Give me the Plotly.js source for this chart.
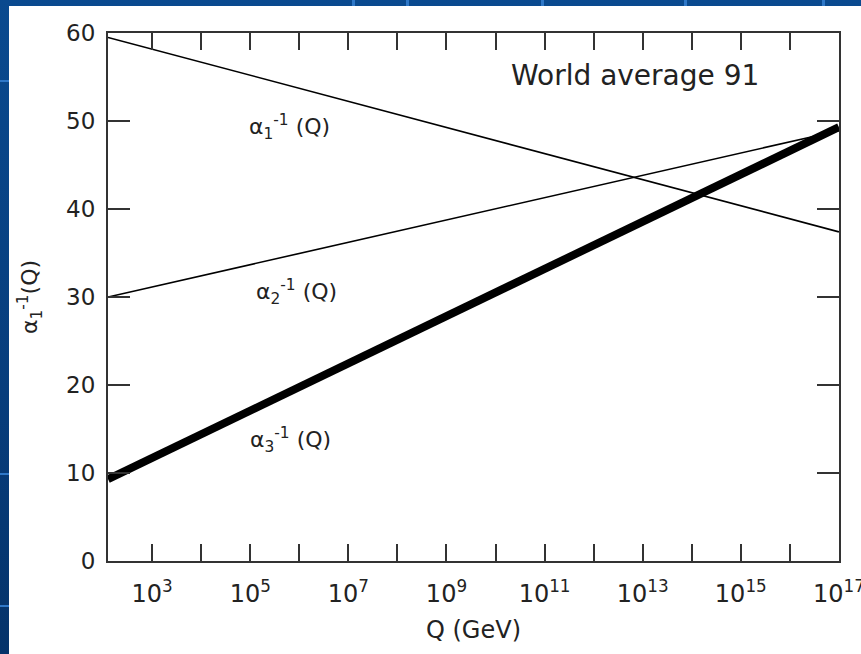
<!DOCTYPE html>
<html>
<head>
<meta charset="utf-8">
<script src="https://cdn.plot.ly/plotly-3.0.1.min.js"></script>
<style>
  html, body { margin: 0; padding: 0; }
  body { width: 861px; height: 654px; overflow: hidden; position: relative;
         background: linear-gradient(180deg, #0a4a8f 0%, #073d7c 60%, #05336a 100%); }
  #chart { position: absolute; left: 9px; top: 6px; width: 852px; height: 648px; }
  .sep { position: absolute; background: #2f78c8; }
</style>
</head>
<body>
<div class="sep" style="left:0;top:80px;width:9px;height:2px"></div>
<div class="sep" style="left:0;top:473px;width:9px;height:2px"></div>
<div class="sep" style="left:0;top:605px;width:9px;height:2px"></div>
<div class="sep" style="left:352px;top:0;width:3px;height:6px"></div>
<div class="sep" style="left:406px;top:0;width:3px;height:6px"></div>
<div class="sep" style="left:541px;top:0;width:3px;height:6px"></div>
<div class="sep" style="left:684px;top:0;width:3px;height:6px"></div>
<div class="sep" style="left:822px;top:0;width:3px;height:6px"></div>
<div id="chart"></div>
<script>
// Energy scale Q (GeV) at the ends of the plotted lines
const qGeV = [126, 1e17];
// Inverse couplings
const alpha1Inv = [59.5, 37.4];
const alpha2Inv = [30.0, 48.9];
const alpha3Inv = [9.3, 49.3];

// Tick labels
const xTickVals = [1e3,1e4,1e5,1e6,1e7,1e8,1e9,1e10,1e11,1e12,1e13,1e14,1e15,1e16,1e17];
const xTickText = ['10<sup>3</sup>','','10<sup>5</sup>','','10<sup>7</sup>','','10<sup>9</sup>','',
                   '10<sup>11</sup>','','10<sup>13</sup>','','10<sup>15</sup>','','10<sup>17</sup>'];
const yTickVals = [0,10,20,30,40,50,60];

const FONT = 'DejaVu Sans, Liberation Sans, Arial, sans-serif';
const INK = '#222';

const traces = [
  { x: qGeV, y: alpha1Inv, mode: 'lines', line: { color: '#000', width: 1.6 }, name: 'a1', hoverinfo: 'skip' },
  { x: qGeV, y: alpha2Inv, mode: 'lines', line: { color: '#000', width: 1.6 }, name: 'a2', hoverinfo: 'skip' },
  { x: qGeV, y: alpha3Inv, mode: 'lines', line: { color: '#000', width: 8 }, name: 'a3', hoverinfo: 'skip' }
];

const layout = {
  width: 852, height: 648,
  paper_bgcolor: '#ffffff', plot_bgcolor: '#ffffff',
  showlegend: false,
  margin: { l: 99, r: 22, t: 27, b: 93 },
  font: { family: FONT, color: INK, size: 22 },
  xaxis: {
    type: 'log', range: [2.1, 17.002],
    tickvals: xTickVals, ticktext: xTickText,
    ticks: 'inside', ticklen: 17, tickwidth: 2, tickcolor: '#333',
    showline: true, linewidth: 2, linecolor: '#333', mirror: 'ticks',
    showgrid: false, zeroline: false,
    tickfont: { family: FONT, size: 24, color: INK },
    ticklabelstandoff: 10,
    ticklabeloverflow: 'allow',
    title: { text: 'Q (GeV)', font: { family: FONT, size: 24, color: INK }, standoff: 14 }
  },
  yaxis: {
    range: [0, 60], tickvals: yTickVals,
    ticks: 'inside', ticklen: 22, tickwidth: 2, tickcolor: '#333',
    showline: true, linewidth: 2, linecolor: '#333', mirror: 'ticks',
    showgrid: false, zeroline: false,
    tickfont: { family: FONT, size: 23, color: INK },
    ticklabelstandoff: 6,
    title: { text: 'α<sub>1</sub><sup>-1</sup>(Q)', font: { family: FONT, size: 22, color: INK }, standoff: 22 }
  },
  annotations: [
    { x: 12.85, y: 55.2, xref: 'x', yref: 'y', text: 'World average 91', showarrow: false,
      font: { family: FONT, size: 28, color: INK } },
    { x: 5.8, y: 49.3, xref: 'x', yref: 'y', text: 'α<sub>1</sub><sup>-1</sup> (Q)', showarrow: false,
      font: { family: FONT, size: 22, color: INK } },
    { x: 5.95, y: 30.6, xref: 'x', yref: 'y', text: 'α<sub>2</sub><sup>-1</sup> (Q)', showarrow: false,
      font: { family: FONT, size: 22, color: INK } },
    { x: 5.83, y: 13.8, xref: 'x', yref: 'y', text: 'α<sub>3</sub><sup>-1</sup> (Q)', showarrow: false,
      font: { family: FONT, size: 22, color: INK } }
  ]
};

Plotly.newPlot('chart', traces, layout, { staticPlot: true, displayModeBar: false });
</script>
</body>
</html>
